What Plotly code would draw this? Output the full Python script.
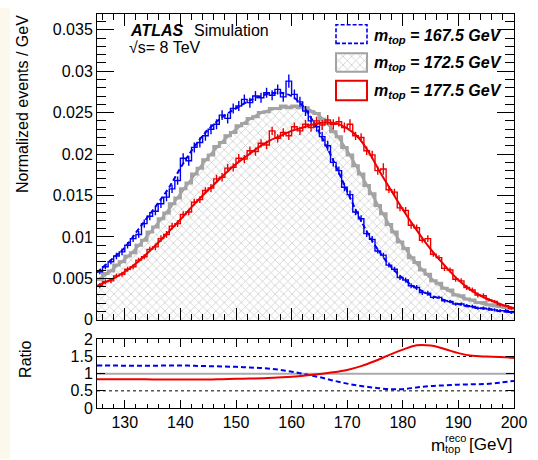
import plotly.graph_objects as go

# ---------------- data ----------------
bin_edges = list(range(125, 201))            # 1 GeV bins, 125..200
bin_centers = [e + 0.5 for e in bin_edges[:-1]]

blue_hist = [  # m_top = 167.5 GeV
    .0058, .0064, .0070, .0077, .0082, .0090, .0098, .0103, .0116, .0125,
    .0131, .0140, .0148, .0158, .0168, .0195, .0192, .0208, .0214, .0222,
    .0230, .0236, .0247, .0243, .0255, .0258, .0266, .0262, .0270, .0268,
    .0274, .0271, .0278, .0269, .0288, .0272, .0263, .0252, .0240, .0233,
    .0221, .0210, .0190, .0180, .0160, .0151, .0130, .0122, .0104, .0097,
    .0083, .0078, .0066, .0061, .0051, .0048, .0041, .0039, .0033, .0032,
    .0027, .0027, .0023, .0022, .0019, .0019, .0017, .0016, .0014, .0014,
    .0013, .0012, .0011, .0011, .0009]
blue_err = [
    .0003, .0003, .0003, .0004, .0004, .0004, .0004, .0004, .0005, .0005,
    .0005, .0005, .0005, .0005, .0005, .0006, .0006, .0006, .0006, .0006,
    .0006, .0006, .0006, .0006, .0006, .0006, .0006, .0006, .0006, .0006,
    .0006, .0006, .0006, .0006, .0008, .0006, .0006, .0006, .0006, .0006,
    .0006, .0006, .0005, .0005, .0005, .0005, .0004, .0004, .0004, .0004,
    .0003, .0003, .0003, .0003, .0003, .0003, .0003, .0003, .0003, .0003,
    .0002, .0002, .0002, .0002, .0002, .0002, .0002, .0002, .0002, .0002,
    .0002, .0002, .0002, .0002, .0002]

gray_hist = [  # m_top = 172.5 GeV
    .0049, .0056, .0059, .0066, .0070, .0077, .0081, .0090, .0096, .0106,
    .0112, .0122, .0129, .0140, .0147, .0158, .0165, .0176, .0183, .0193,
    .0199, .0209, .0214, .0222, .0226, .0234, .0237, .0243, .0245, .0250,
    .0251, .0255, .0255, .0258, .0256, .0258, .0256, .0256, .0251, .0249,
    .0242, .0237, .0227, .0221, .0208, .0199, .0186, .0176, .0162, .0152,
    .0138, .0128, .0115, .0106, .0094, .0086, .0075, .0069, .0060, .0055,
    .0047, .0044, .0038, .0036, .0030, .0029, .0025, .0024, .0021, .0021,
    .0018, .0018, .0016, .0015, .0014]

red_hist = [  # m_top = 177.5 GeV
    .0041, .0046, .0047, .0053, .0055, .0061, .0064, .0072, .0076, .0085,
    .0088, .0098, .0103, .0113, .0116, .0127, .0130, .0142, .0145, .0156,
    .0159, .0170, .0172, .0183, .0184, .0195, .0194, .0204, .0203, .0213,
    .0211, .0228, .0219, .0226, .0222, .0233, .0228, .0236, .0232, .0240,
    .0235, .0241, .0236, .0239, .0232, .0236, .0222, .0220, .0204, .0199,
    .0180, .0182, .0157, .0154, .0135, .0132, .0114, .0111, .0096, .0098,
    .0079, .0075, .0062, .0060, .0049, .0047, .0039, .0036, .0030, .0029,
    .0024, .0022, .0018, .0017, .0014]
red_err = [
    .0003, .0003, .0003, .0003, .0003, .0003, .0003, .0003, .0003, .0003,
    .0004, .0004, .0004, .0004, .0004, .0004, .0004, .0004, .0004, .0004,
    .0005, .0005, .0005, .0005, .0005, .0005, .0005, .0005, .0005, .0005,
    .0005, .0005, .0005, .0005, .0005, .0005, .0005, .0005, .0005, .0005,
    .0006, .0006, .0006, .0006, .0006, .0006, .0005, .0005, .0005, .0005,
    .0005, .0007, .0004, .0004, .0004, .0004, .0004, .0004, .0003, .0004,
    .0003, .0003, .0003, .0003, .0003, .0003, .0003, .0003, .0003, .0003,
    .0002, .0002, .0002, .0002, .0002]

fit_x = [125, 126, 128, 130, 132, 134, 136, 138, 140, 142, 144, 146, 148,
         150, 152, 154, 156, 158, 160, 162, 164, 166, 168, 170, 172, 174,
         176, 178, 180, 182, 184, 186, 188, 190, 192, 194, 196, 198, 200]
blue_fit = [.0057, .0063, .0075, .0087, .0105, .0123, .0141, .0160, .0183,
            .0204, .0222, .0236, .0247, .0255, .0263, .0269, .0273, .0274,
            .0270, .0258, .0238, .0213, .0185, .0155, .0126, .0101, .0080,
            .0063, .0050, .0040, .0033, .0027, .0023, .0019, .0016, .0014,
            .0012, .0010, .0009]
gray_fit = [.0048, .0052, .0062, .0073, .0086, .0101, .0117, .0134, .0152,
            .0170, .0188, .0204, .0218, .0230, .0240, .0248, .0253, .0256,
            .0257, .0256, .0251, .0240, .0224, .0204, .0181, .0157, .0133,
            .0110, .0090, .0072, .0057, .0045, .0036, .0029, .0024, .0020,
            .0017, .0015, .0013]
red_fit = [.0041, .0044, .0050, .0058, .0068, .0080, .0093, .0107, .0121,
           .0136, .0150, .0163, .0176, .0188, .0198, .0208, .0216, .0222,
           .0228, .0232, .0236, .0238, .0237, .0231, .0220, .0201, .0177,
           .0155, .0133, .0113, .0094, .0077, .0062, .0048, .0037, .0029,
           .0023, .0018, .0014]

ratio_x = [125, 127.5, 130, 132.5, 135, 137.5, 140, 142.5, 145, 147.5, 150,
           152.5, 155, 157.5, 160, 162.5, 165, 167.5, 170, 172.5, 175, 177.5,
           180, 182.5, 185, 187.5, 190, 192.5, 195, 197.5, 200]
red_ratio = [.84, .84, .84, .84, .83, .83, .83, .83, .83, .84, .85, .86, .87,
             .89, .91, .95, .99, 1.04, 1.11, 1.22, 1.37, 1.54, 1.70, 1.83,
             1.82, 1.72, 1.60, 1.52, 1.50, 1.49, 1.46]
blue_ratio = [1.24, 1.24, 1.23, 1.23, 1.23, 1.24, 1.24, 1.23, 1.22, 1.21,
              1.20, 1.18, 1.16, 1.12, 1.06, .98, .90, .80, .71, .64, .59,
              .55, .55, .60, .64, .66, .68, .69, .70, .74, .79]

legend_labels = ["167.5", "172.5", "177.5"]
y_ticks = [0, 0.005, 0.01, 0.015, 0.02, 0.025, 0.03, 0.035]
y_ticktext = ["0", "0.005", "0.01", "0.015", "0.02", "0.025", "0.03", "0.035"]
r_ticks = [0, 0.5, 1, 1.5, 2]
r_ticktext = ["0", "0.5", "1", "1.5", "2"]

BLUE = "#0000f0"
RED = "#ee0000"
GRAY = "#a3a3a3"
FONT = "Liberation Sans, Arial, Helvetica, sans-serif"
HATCH = dict(shape="x", fgcolor="#a0a0a0", bgcolor="white", size=6,
             solidity=0.26)

fig = go.Figure()

def steps(vals):
    return vals + [vals[-1]]

# gray hatched histogram
fig.add_trace(go.Scatter(
    x=bin_edges, y=steps(gray_hist), mode="lines", line_shape="hv",
    line=dict(color=GRAY, width=3), fill="tozeroy", fillcolor="rgba(0,0,0,0)",
    fillpattern=HATCH, xaxis="x", yaxis="y", hoverinfo="skip"))
fig.add_trace(go.Scatter(x=fit_x, y=gray_fit, mode="lines", line_shape="spline",
                         line=dict(color=GRAY, width=2.5), xaxis="x", yaxis="y"))

for hist, err, fit, col, dash in [(blue_hist, blue_err, blue_fit, BLUE, "5px,3px"),
                                  (red_hist, red_err, red_fit, RED, "solid")]:
    fig.add_trace(go.Scatter(x=bin_edges, y=steps(hist), mode="lines",
                             line_shape="hv", line=dict(color=col, width=1.4),
                             xaxis="x", yaxis="y"))
    fig.add_trace(go.Scatter(x=bin_centers, y=hist, mode="markers",
                             marker=dict(size=1, color=col),
                             error_y=dict(type="data", array=err, visible=True,
                                          color=col, thickness=1.4, width=0),
                             xaxis="x", yaxis="y"))
    fig.add_trace(go.Scatter(x=fit_x, y=fit, mode="lines", line_shape="spline",
                             line=dict(color=col, width=2, dash=dash),
                             xaxis="x", yaxis="y"))

# ratio panel
fig.add_trace(go.Scatter(x=ratio_x, y=blue_ratio, mode="lines",
                         line_shape="spline",
                         line=dict(color=BLUE, width=2, dash="5px,3px"),
                         xaxis="x2", yaxis="y2"))
fig.add_trace(go.Scatter(x=ratio_x, y=red_ratio, mode="lines",
                         line_shape="spline", line=dict(color=RED, width=2),
                         xaxis="x2", yaxis="y2"))

# legend gray hatched box (on helper axes spanning the main frame)
fig.add_trace(go.Scatter(
    x=[0.5731, 0.6475, 0.6475, 0.5731, 0.5731],
    y=[0.8109, 0.8109, 0.8718, 0.8718, 0.8109],
    mode="lines", fill="toself", line=dict(color=GRAY, width=2),
    fillcolor="rgba(0,0,0,0)", fillpattern=HATCH,
    xaxis="x3", yaxis="y3"))

L, R, T, B = 97, 24, 6, 52
W, H = 538, 460
PW, PH = W - L - R, H - T - B
def px(xp):
    return (xp - L) / PW
def py(yp):
    return (H - B - yp) / PH

shapes = [
    # cream strip at the left edge
    dict(type="rect", xref="paper", yref="paper", x0=px(0), x1=px(10),
         y0=py(H), y1=py(0), fillcolor="#fdf8ec", line_width=0, layer="below"),
    # legend boxes
    dict(type="rect", xref="paper", yref="paper", x0=px(336), x1=px(367),
         y0=py(36), y1=py(17), line=dict(color=BLUE, width=1.6, dash="4px,2px"),
         fillcolor="white"),
    dict(type="rect", xref="paper", yref="paper", x0=px(336), x1=px(367),
         y0=py(94), y1=py(74), line=dict(color=RED, width=2),
         fillcolor="white"),
    # ratio reference lines
    dict(type="line", xref="x2", yref="y2", x0=125, x1=200, y0=1, y1=1,
         line=dict(color="#aaaaaa", width=2), layer="below"),
    dict(type="line", xref="x2", yref="y2", x0=125, x1=200, y0=1.5, y1=1.5,
         line=dict(color="black", width=1, dash="dot"), layer="below"),
    dict(type="line", xref="x2", yref="y2", x0=125, x1=200, y0=0.5, y1=0.5,
         line=dict(color="black", width=1, dash="dot"), layer="below"),
]

ann = []
def text(s, x, y, size=16, xanchor="left", yanchor="middle", angle=0):
    ann.append(dict(text=s, xref="paper", yref="paper", x=x, y=y,
                    xanchor=xanchor, yanchor=yanchor, showarrow=False,
                    textangle=angle, font=dict(size=size, color="black",
                                               family=FONT)))

text("<b><i>ATLAS</i></b>", px(128), py(23))
text("Simulation", px(192), py(23))
text("√s= 8 TeV", px(127), py(40))
for lab, yc in zip(legend_labels, [29, 57, 85]):
    text("<b><i>m<sub>top</sub> = " + lab + " GeV</i></b>", px(372), py(yc))
text("Normalized events / GeV", px(22), py(5), xanchor="center",
     yanchor="top", angle=-90)
text("Ratio", px(26), py(338), xanchor="center", yanchor="top", angle=-90)
text("m", px(429), py(446), size=17)
text("reco", px(443), py(439), size=11)
text("top", px(443), py(450), size=11)
text("[GeV]", 1.0, py(445), size=17, xanchor="right")

axis_common = dict(showline=True, linecolor="black", linewidth=1, mirror="allticks",
                   ticks="inside", tickcolor="black", showgrid=False,
                   zeroline=False, tickfont=dict(size=16, family=FONT,
                                                  color="black"))
main_bottom = py(318)
ratio_top = py(338)

fig.update_layout(
    width=W, height=H, margin=dict(l=L, r=R, t=T, b=B),
    paper_bgcolor="white", plot_bgcolor="white", showlegend=False,
    shapes=shapes, annotations=ann,
    xaxis=dict(**axis_common, domain=[0, 1], anchor="y", range=[125, 200],
               dtick=10, ticklen=12, showticklabels=False,
               minor=dict(dtick=2, ticklen=6, ticks="inside",
                          tickcolor="black")),
    yaxis=dict(**axis_common, domain=[main_bottom, 1], anchor="x",
               range=[0, 0.0369], tickvals=y_ticks, ticktext=y_ticktext,
               ticklen=17,
               minor=dict(dtick=0.001, ticklen=9, ticks="inside",
                          tickcolor="black")),
    xaxis2=dict(**axis_common, domain=[0, 1], anchor="y2", range=[125, 200],
                dtick=10, ticklen=8,
                minor=dict(dtick=2, ticklen=4, ticks="inside",
                           tickcolor="black")),
    yaxis2=dict(**axis_common, domain=[0, ratio_top], anchor="x2",
                range=[0, 2], tickvals=r_ticks, ticktext=r_ticktext,
                ticklen=8),
    xaxis3=dict(overlaying="x", anchor="y3", range=[0, 1], visible=False),
    yaxis3=dict(overlaying="y", anchor="x3", range=[0, 1], visible=False),
)

fig.write_html("out.html",
               config={"displayModeBar": False},
               post_script="document.body.style.margin='0';"
                           "document.body.style.overflow='hidden';")
